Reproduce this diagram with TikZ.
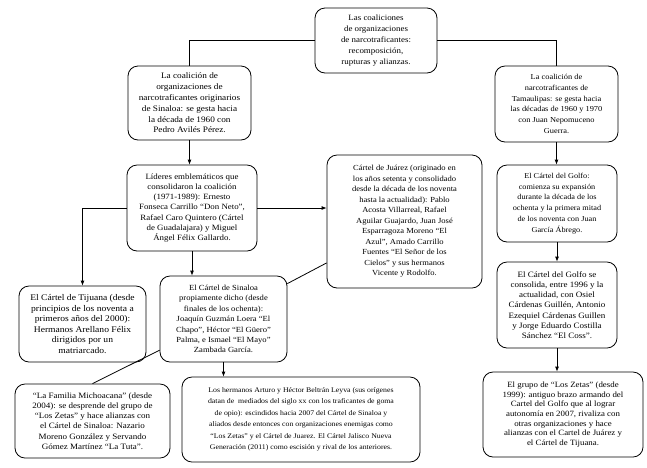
\documentclass[tikz,border=0pt]{standalone}
\usepackage{fontspec}
\setmainfont[FakeStretch=1.1]{Liberation Serif}
\usetikzlibrary{arrows.meta}
\tikzset{
  bx/.style={draw, rounded corners=10pt, line width=0.8pt, align=center, inner sep=1pt},
  ln/.style={line width=0.8pt},
  arr/.style={line width=0.8pt, -{Latex[length=5pt,width=4pt]}}
}
\newcommand\fz[2]{\fontsize{#1}{#2}\selectfont}
\begin{document}
\begin{tikzpicture}[x=1pt,y=-1pt]
\useasboundingbox (0,0) rectangle (647,467);
\fill[white] (0,0) rectangle (647,467);

\node[bx, minimum width=122, minimum height=65, font=\fz{8.1}{11}] (top) at (376,40.5)
 {Las coaliciones\\de organizaciones\\de narcotraficantes:\\recomposición,\\rupturas y alianzas.};

\node[bx, minimum width=123, minimum height=74, font=\fz{8.4}{10.8}] (b2) at (189.5,103)
 {La coalición de\\organizaciones de\\narcotraficantes originarios\\de Sinaloa: se gesta hacia\\la década de 1960 con\\Pedro Avilés Pérez.};

\node[bx, minimum width=123, minimum height=76, font=\fz{7.6}{10.7}] (b3) at (556.5,104)
 {La coalición de\\narcotraficantes de\\Tamaulipas: se gesta hacia\\las décadas de 1960 y 1970\\con Juan Nepomuceno\\Guerra.};

\node[bx, minimum width=130, minimum height=86, font=\fz{8.05}{10.3}] (b4) at (192,208)
 {Líderes emblemáticos que\\consolidaron la coalición\\(1971-1989): Ernesto\\Fonseca Carrillo “Don Neto”,\\Rafael Caro Quintero (Cártel\\de Guadalajara) y Miguel\\Ángel Félix Gallardo.};

\node[bx, minimum width=155, minimum height=133, font=\fz{7.75}{10.5}] (jz) at (404.5,221.5)
 {Cártel de Juárez (originado en\\los años setenta y consolidado\\desde la década de los noventa\\hasta la actualidad): Pablo\\Acosta Villarreal, Rafael\\Aguilar Guajardo, Juan José\\Esparragoza Moreno “El\\Azul”, Amado Carrillo\\Fuentes “El Señor de los\\Cielos” y sus hermanos\\Vicente y Rodolfo.};

\node[bx, minimum width=127, minimum height=76, font=\fz{8.7}{10.5}] (tj) at (82.5,324)
 {El Cártel de Tijuana (desde\\principios de los noventa a\\primeros años del 2000):\\Hermanos Arellano Félix\\dirigidos por un\\matriarcado.};

\node[bx, minimum width=127, minimum height=86, font=\fz{7.8}{10.4}] (sn) at (223.5,319)
 {El Cártel de Sinaloa\\propiamente dicho (desde\\finales de los ochenta):\\Joaquín Guzmán Loera “El\\Chapo”, Héctor “El Güero”\\Palma, e Ismael “El Mayo”\\Zambada García.};

\node[bx, minimum width=155, minimum height=74, font=\fz{8.2}{10.2}] (fm) at (92.5,421)
 {“La Familia Michoacana” (desde\\2004): se desprende del grupo de\\“Los Zetas” y hace alianzas con\\el Cártel de Sinaloa: Nazario\\Moreno González y Servando\\Gómez Martínez “La Tuta”.};

\node[bx, minimum width=238, minimum height=85, font=\fz{7.1}{11.5}] (bl) at (301,419.5)
 {Los hermanos Arturo y Héctor Beltrán Leyva (sus orígenes\\datan de\ \ mediados del siglo xx con los traficantes de goma\\de opio): escindidos hacia 2007 del Cártel de Sinaloa y\\aliados desde entonces con organizaciones enemigas como\\“Los Zetas” y el Cártel de Juarez. El Cártel Jalisco Nueva\\Generación (2011) como escisión y rival de los anteriores.};

\node[bx, minimum width=120, minimum height=77, font=\fz{7.5}{10.8}] (g1) at (557,203.5)
 {El Cártel del Golfo:\\comienza su expansión\\durante la década de los\\ochenta y la primera mitad\\de los noventa con Juan\\García Ábrego.};

\node[bx, minimum width=120, minimum height=86, font=\fz{8.2}{10.2}] (g2) at (557,305)
 {El Cártel del Golfo se\\consolida, entre 1996 y la\\actualidad, con Osiel\\Cárdenas Guillén, Antonio\\Ezequiel Cárdenas Guillen\\y Jorge Eduardo Costilla\\Sánchez “El Coss”.};

\node[bx, minimum width=160, minimum height=85, font=\fz{8.05}{9.6}] (zt) at (563,414.5)
 {El grupo de “Los Zetas” (desde\\1999): antiguo brazo armando del\\Cartel del Golfo que al lograr\\autonomía en 2007, rivaliza con\\otras organizaciones y hace\\alianzas con el Cartel de Juárez y\\el Cártel de Tijuana.};

% connectors
\draw[ln] (top.west) -| (b2.north);
\draw[ln] (top.east) -| (b3.north);
\draw[arr] (b2.south) -- (b2.south |- b4.north);
\draw[arr] (b4.west) -| (tj.north);
\draw[arr] (b4.east) -- (b4.east -| jz.west);
\draw[arr] (b4.south) -- (b4.south |- sn.north);
\draw[ln] (sn.29) -- (jz.208);
\draw[ln] (sn.206) -- (fm.north);
\draw[arr] (sn.south) -- (sn.south |- bl.north);
\draw[arr] (b3.south) -- (b3.south |- g1.north);
\draw[arr] (g1.south) -- (g1.south |- g2.north);
\draw[arr] (g2.south) -- (g2.south |- zt.north);
\end{tikzpicture}
\end{document}
